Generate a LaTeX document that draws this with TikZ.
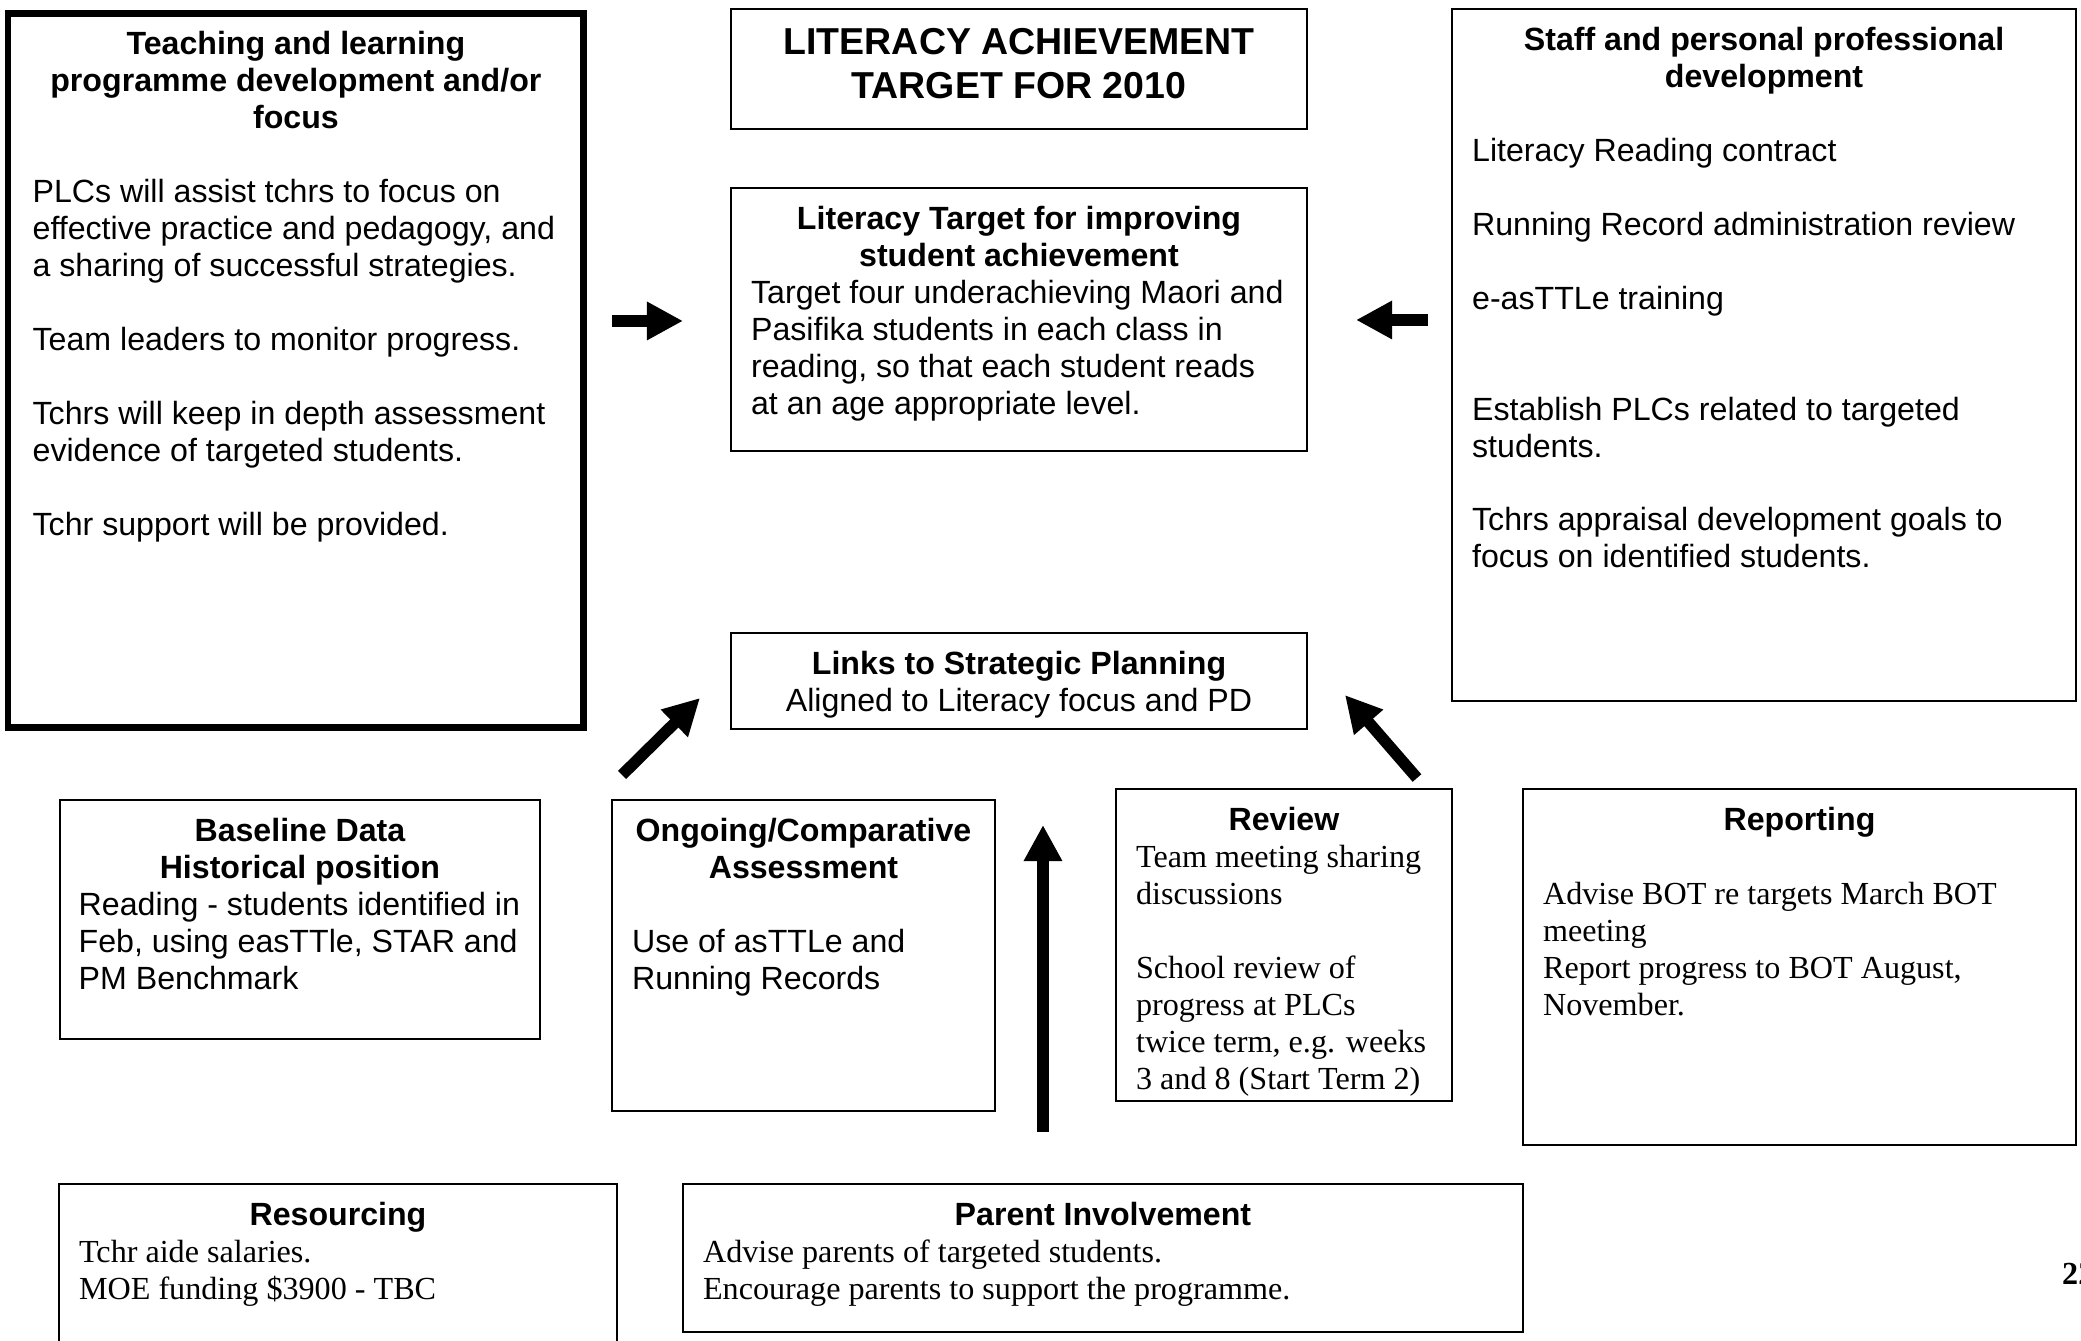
\documentclass[tikz,border=0pt]{standalone}
\usepackage{fontspec}
\setmainfont{Liberation Sans}
\newfontfamily\tms{Liberation Serif}
\usepackage{tikz}
\usetikzlibrary{arrows.meta}

\newcommand{\panel}[4]{\parbox[t][#2][t]{#1}{\rule{0pt}{12pt}{\centering\bfseries #3\par}\raggedright #4}}

\begin{document}
\begin{tikzpicture}[
panel/.style={draw,line width=0.7pt,anchor=north west,inner xsep=7.5pt,inner ysep=3.5pt,outer sep=0pt,font=\fontsize{12}{13.8}\selectfont},
thickpanel/.style={panel,line width=2.6pt,inner xsep=9.2pt},
blockarrow/.style={line width=4.3pt,-{Triangle[length=13.5pt,width=13.5pt]}}]
\useasboundingbox (0,0) rectangle (27.309,-17.585);
\node[thickpanel] (teach) at (0.105,-0.171) {\panel{196.6pt}{259.6pt}{Teaching and learning\\programme development and/or\\focus}{\mbox{}\\
PLCs will assist tchrs to focus on\\
effective practice and pedagogy, and\\
a sharing of successful strategies.\\[13.8pt]
Team leaders to monitor progress.\\[13.8pt]
Tchrs will keep in depth assessment\\
evidence of targeted students.\\[13.8pt]
Tchr support will be provided.}};
\node[panel] (title) at (9.593,-0.118) {\parbox[t][37.8pt][t]{200.07pt}{\centering\fontsize{14}{16.4}\selectfont\bfseries\rule{0pt}{13.5pt}LITERACY ACHIEVEMENT\\TARGET FOR 2010}};
\node[panel] (target) at (9.593,-2.467) {\panel{200.07pt}{91.2pt}{Literacy Target for improving\\student achievement}{Target four underachieving Maori and\\
Pasifika students in each class in\\
reading, so that each student reads\\
at an age appropriate level.}};
\node[panel] (staff) at (19.055,-0.118) {\panel{218pt}{251.4pt}{Staff and personal professional\\development}{\mbox{}\\
Literacy Reading contract\\[13.8pt]
Running Record administration review\\[13.8pt]
e-asTTLe training\\[27.6pt]
Establish PLCs related to targeted\\
students.\\[13.8pt]
Tchrs appraisal development goals to\\
focus on identified students.}};
\node[panel] (links) at (9.593,-8.307) {\panel{200.07pt}{28.8pt}{Links to Strategic Planning}{\centering Aligned to Literacy focus and PD}};
\node[panel,inner xsep=7pt] (base) at (0.787,-10.498) {\panel{165.2pt}{82.2pt}{Baseline Data\\Historical position}{Reading - students identified in\\
Feb, using easTTle, STAR and\\
PM Benchmark}};
\node[panel] (ongoing) at (8.031,-10.498) {\panel{128pt}{109.1pt}{Ongoing/Comparative\\Assessment}{\mbox{}\\
Use of asTTLe and\\
Running Records}};
\node[panel] (review) at (14.645,-10.354) {\panel{110.46pt}{109.5pt}{Review}{\tms Team meeting sharing\\
discussions\\[13.8pt]
School review of\\
progress at PLCs\\
twice term, e.g. weeks\\
3 and 8 (Start Term 2)}};
\node[panel] (report) at (19.986,-10.354) {\panel{191.5pt}{125.9pt}{Reporting}{\tms\mbox{}\\
Advise BOT re targets March BOT\\
meeting\\
Report progress to BOT August,\\
November.}};
\node[panel] (resource) at (0.774,-15.538) {\panel{193.35pt}{73.6pt}{Resourcing}{\tms Tchr aide salaries.\\
MOE funding \$3900 - TBC}};
\node[panel] (parent) at (8.963,-15.538) {\panel{298.6pt}{48.3pt}{Parent Involvement}{\tms Advise parents of targeted students.\\
Encourage parents to support the programme.}};
\node[anchor=base west,inner sep=0pt,font=\tms\bfseries\fontsize{12}{13.8}\selectfont] (pagenum) at (27.055,-16.85) {22};
\coordinate (teach-out) at (8.031,-4.212);
\coordinate (target-inl) at (8.963,-4.212);
\coordinate (staff-out) at (18.74,-4.199);
\coordinate (target-inr) at (17.795,-4.199);
\coordinate (base-out) at (8.163,-10.17);
\coordinate (links-inl) at (9.186,-9.16);
\coordinate (review-out) at (18.595,-10.21);
\coordinate (links-inr) at (17.65,-9.121);
\coordinate (parent-out) at (13.687,-14.855);
\coordinate (links-inb) at (13.687,-10.826);
\draw[blockarrow] (teach-out)--(target-inl);
\draw[blockarrow] (staff-out)--(target-inr);
\draw[blockarrow] (base-out)--(links-inl);
\draw[blockarrow] (review-out)--(links-inr);
\draw[blockarrow] (parent-out)--(links-inb);
\end{tikzpicture}
\end{document}
